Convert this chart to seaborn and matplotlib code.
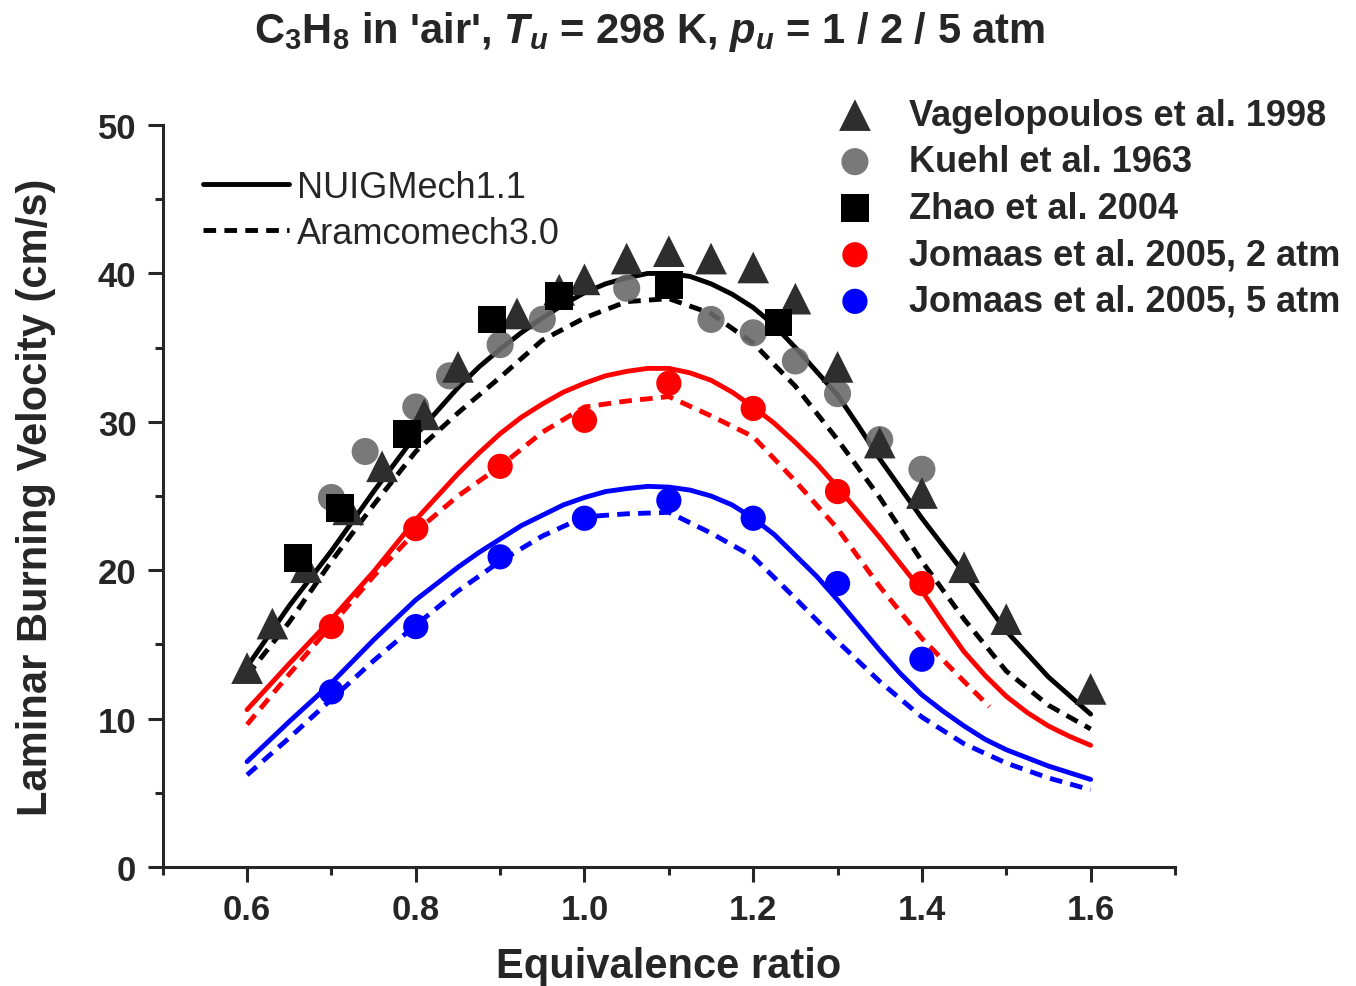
import numpy as np
import pandas as pd
import matplotlib
matplotlib.use("Agg")
import matplotlib.pyplot as plt
from matplotlib.ticker import MultipleLocator, FormatStrFormatter
import seaborn as sns

vag_phi = [0.60, 0.63, 0.67, 0.72, 0.76, 0.81, 0.85, 0.92, 0.97, 1.00, 1.05, 1.10,
           1.15, 1.20, 1.25, 1.30, 1.35, 1.40, 1.45, 1.50, 1.60]
vag_su = [13.4, 16.4, 20.2, 24.1, 27.0, 30.5, 33.7, 37.3, 38.9, 39.6, 41.0, 41.5,
          41.0, 40.4, 38.3, 33.7, 28.6, 25.2, 20.2, 16.7, 12.0]

kuehl_phi = [0.70, 0.74, 0.80, 0.84, 0.90, 0.95, 1.05, 1.15, 1.20, 1.25, 1.30, 1.35, 1.40]
kuehl_su = [24.9, 28.0, 31.0, 33.1, 35.2, 36.9, 39.0, 36.9, 36.0, 34.1, 31.9, 28.8, 26.8]

zhao_phi = [0.66, 0.71, 0.79, 0.89, 0.97, 1.10, 1.23]
zhao_su = [20.8, 24.2, 29.2, 36.9, 38.5, 39.2, 36.7]

jom_phi = [0.7, 0.8, 0.9, 1.0, 1.1, 1.2, 1.3, 1.4]
jom2_su = [16.2, 22.8, 27.0, 30.1, 32.6, 30.9, 25.3, 19.1]
jom5_su = [11.8, 16.2, 20.9, 23.5, 24.7, 23.5, 19.1, 14.0]

# ---- model curves (NUIGMech1.1 solid, Aramcomech3.0 dashed) ----
nuig1_phi = [0.60, 0.65, 0.70, 0.75, 0.80, 0.85, 0.875, 0.90, 0.925, 0.95, 0.975, 1.00,
             1.025, 1.05, 1.075, 1.10, 1.125, 1.15, 1.175, 1.20, 1.225, 1.25, 1.275,
             1.30, 1.325, 1.35, 1.40, 1.45, 1.50, 1.55, 1.60]
nuig1_su = [13.5, 17.6, 21.3, 25.3, 29.1, 32.3, 33.7, 34.9, 36.0, 37.0, 37.9, 38.7,
            39.3, 39.7, 40.0, 40.0, 39.8, 39.3, 38.6, 37.7, 36.5, 35.0, 33.4,
            31.8, 29.7, 27.5, 23.5, 19.8, 15.9, 12.8, 10.3]

nuig2_phi = [0.60, 0.65, 0.70, 0.75, 0.80, 0.85, 0.875, 0.90, 0.925, 0.95, 0.975, 1.00,
             1.025, 1.05, 1.075, 1.10, 1.125, 1.15, 1.175, 1.20, 1.225, 1.25, 1.275,
             1.30, 1.35, 1.40, 1.425, 1.45, 1.475, 1.50, 1.525, 1.55, 1.575, 1.60]
nuig2_su = [10.6, 13.7, 16.7, 19.9, 23.4, 26.5, 27.9, 29.2, 30.3, 31.2, 32.0, 32.6,
            33.1, 33.4, 33.6, 33.6, 33.3, 32.8, 32.0, 31.0, 29.9, 28.6, 27.2,
            25.6, 22.2, 18.6, 16.5, 14.5, 12.9, 11.5, 10.4, 9.5, 8.8, 8.2]

nuig5_phi = [0.60, 0.65, 0.70, 0.75, 0.80, 0.85, 0.875, 0.90, 0.925, 0.95, 0.975, 1.00,
             1.025, 1.05, 1.075, 1.10, 1.125, 1.15, 1.175, 1.20, 1.225, 1.25, 1.275,
             1.30, 1.325, 1.35, 1.375, 1.40, 1.425, 1.45, 1.475, 1.50, 1.55, 1.60]
nuig5_su = [7.1, 9.8, 12.4, 15.3, 18.0, 20.2, 21.2, 22.1, 23.0, 23.7, 24.4, 24.9,
            25.3, 25.5, 25.65, 25.6, 25.4, 25.0, 24.4, 23.5, 22.4, 21.0, 19.6,
            18.0, 16.3, 14.6, 13.0, 11.6, 10.5, 9.5, 8.6, 7.9, 6.8, 5.9]

aramco_phi = [0.60, 0.65, 0.70, 0.75, 0.80, 0.85, 0.90, 0.95, 1.00, 1.05, 1.10,
              1.15, 1.20, 1.25, 1.30, 1.35, 1.40, 1.45, 1.50, 1.55, 1.60]
aramco1_su = [12.9, 16.5, 20.6, 24.4, 28.0, 30.6, 33.0, 35.5, 37.0, 38.1, 38.3,
              37.3, 35.3, 32.4, 28.8, 24.9, 20.6, 16.7, 13.2, 10.9, 9.3]
aramco5_su = [6.2, 8.7, 11.3, 13.9, 16.3, 18.6, 20.6, 22.3, 23.6, 23.8, 23.9,
              22.5, 20.9, 18.1, 15.2, 12.5, 10.1, 8.3, 7.0, 6.0, 5.2]
aramco2_phi = [0.60, 0.65, 0.70, 0.75, 0.80, 0.85, 0.90, 0.95, 1.00, 1.05, 1.10,
               1.15, 1.20, 1.25, 1.30, 1.35, 1.40, 1.45, 1.48]
aramco2_su = [9.6, 13.0, 16.3, 19.6, 22.6, 25.0, 27.0, 29.3, 31.0, 31.4, 31.7,
              30.4, 29.0, 26.0, 22.8, 18.9, 15.4, 12.5, 10.8]

sns.set_style("ticks")
plt.rcParams['font.family'] = ['Liberation Sans', 'DejaVu Sans']
plt.rcParams['mathtext.fontset'] = 'custom'
plt.rcParams['mathtext.rm'] = 'Liberation Sans:bold'
plt.rcParams['mathtext.it'] = 'Liberation Sans:bold:italic'
plt.rcParams['mathtext.bf'] = 'Liberation Sans:bold'

fig = plt.figure(figsize=(13.56, 9.87), dpi=100)
ax = fig.add_axes([0.120, 0.1206, 0.7465, 0.7517])

lw = 3.5
dash = (2.6, 1.7)
curves = [
    (nuig1_phi, nuig1_su, 'black', '-'),
    (aramco_phi, aramco1_su, 'black', '--'),
    (nuig2_phi, nuig2_su, 'red', '-'),
    (aramco2_phi, aramco2_su, 'red', '--'),
    (nuig5_phi, nuig5_su, 'blue', '-'),
    (aramco_phi, aramco5_su, 'blue', '--'),
]
for xs, ys, c, ls in curves:
    sns.lineplot(x=xs, y=ys, ax=ax, color=c, lw=lw, sort=False)
    line = ax.lines[-1]
    line.set_solid_joinstyle('round')
    if ls == '--':
        line.set_dashes(dash)
        line.set_dash_capstyle('butt')
        line.set_dash_joinstyle('round')

h_kuehl = ax.scatter(kuehl_phi, kuehl_su, s=380, marker='o', color='#6a6a6a',
                     alpha=0.9, edgecolors='none', zorder=3)
h_vag = ax.scatter(vag_phi, vag_su, s=520, marker='^', color='#2e2e2e',
                   edgecolors='none', zorder=4)
h_zhao = ax.scatter(zhao_phi, zhao_su, s=400, marker='s', color='black',
                    edgecolors='none', zorder=5)
h_j2 = ax.scatter(jom_phi, jom2_su, s=330, marker='o', color='#ff0000',
                  edgecolors='none', zorder=5)
h_j5 = ax.scatter(jom_phi, jom5_su, s=330, marker='o', color='#0000ff',
                  edgecolors='none', zorder=5)

ax.set_xlim(0.5, 1.7)
ax.set_ylim(0, 50)
ax.set_xticks([0.6, 0.8, 1.0, 1.2, 1.4, 1.6])
ax.xaxis.set_minor_locator(MultipleLocator(0.1))
ax.yaxis.set_major_locator(MultipleLocator(10))
ax.yaxis.set_minor_locator(MultipleLocator(5))
ax.xaxis.set_major_formatter(FormatStrFormatter('%.1f'))
ax.tick_params(which='major', direction='out', length=11, width=2.2,
               labelsize=25, pad=8)
ax.tick_params(which='minor', direction='out', length=6, width=2.2)
for t in ax.get_xticklabels() + ax.get_yticklabels():
    t.set_fontweight('bold')
for s in ['top', 'right']:
    ax.spines[s].set_visible(False)
for s in ['left', 'bottom']:
    ax.spines[s].set_linewidth(2.2)

ax.set_xlabel('Equivalence ratio', fontsize=30, fontweight='bold', labelpad=14)
ax.set_ylabel('Laminar Burning Velocity (cm/s)', fontsize=30,
              fontweight='bold', labelpad=30)

fig.text(0.479, 0.968, r"C$_3$H$_8$ in 'air', $T_u$ = 298 K, $p_u$ = 1 / 2 / 5 atm",
         ha='center', va='center', fontsize=30, fontweight='bold')

# legend for experiments
leg1 = ax.legend([h_vag, h_kuehl, h_zhao, h_j2, h_j5],
                 ['Vagelopoulos et al. 1998', 'Kuehl et al. 1963', 'Zhao et al. 2004',
                  'Jomaas et al. 2005, 2 atm', 'Jomaas et al. 2005, 5 atm'],
                 loc='upper left', bbox_to_anchor=(0.666, 1.037), frameon=False,
                 prop={'size': 26, 'weight': 'bold'}, borderpad=0, borderaxespad=0,
                 handlelength=1.0, handletextpad=1.0, labelspacing=0.32,
                 scatterpoints=1)
ax.add_artist(leg1)

# legend for mechanisms
leg2 = ax.legend([ax.lines[0], ax.lines[1]], ['NUIGMech1.1', 'Aramcomech3.0'],
                 loc='upper left', bbox_to_anchor=(0.0395, 0.940), frameon=False,
                 prop={'size': 26}, borderpad=0, borderaxespad=0,
                 handlelength=2.4, handletextpad=0.22, labelspacing=0.32)

fig.savefig('out.png', dpi=100)
